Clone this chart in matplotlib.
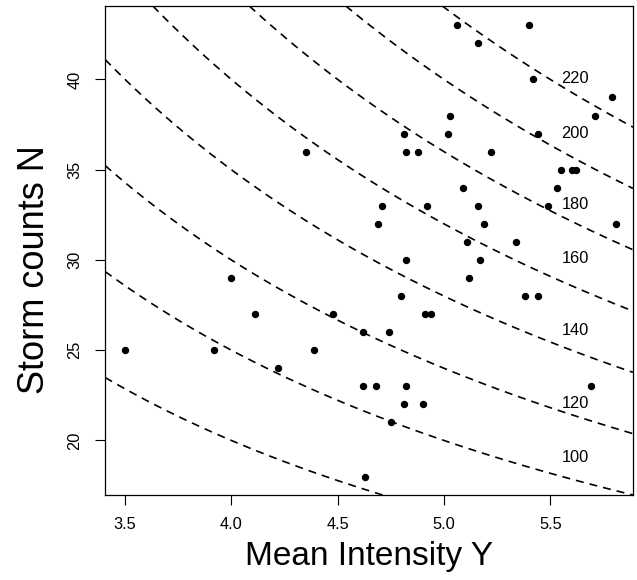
import numpy as np
import matplotlib.pyplot as plt

plt.rcParams['font.family'] = ['Liberation Sans', 'DejaVu Sans']

# mean intensity Y and storm counts N
intensity = [3.50, 4.00, 4.11, 3.92, 4.22,
             4.82, 5.17, 5.12, 4.80, 4.48, 4.91, 4.94, 4.62, 4.74, 4.39,
             4.62, 4.68, 4.82, 4.81, 4.90, 4.75, 4.63,
             5.06, 5.16, 5.03, 4.81, 5.02, 4.35, 4.82, 4.88, 5.22, 5.09,
             4.71, 4.92, 5.16, 4.69, 5.19, 5.11,
             5.40, 5.42, 5.79, 5.71, 5.44, 5.55, 5.60, 5.62, 5.53, 5.49,
             5.81, 5.34,
             5.38, 5.44, 5.69]
counts = [25, 29, 27, 25, 24,
          30, 30, 29, 28, 27, 27, 27, 26, 26, 25,
          23, 23, 23, 22, 22, 21, 18,
          43, 42, 38, 37, 37, 36, 36, 36, 36, 34,
          33, 33, 33, 32, 32, 31,
          43, 40, 39, 38, 37, 35, 35, 35, 34, 33,
          32, 31,
          28, 28, 23]

# contour levels of N * Y and where their labels sit
levels = [80, 100, 120, 140, 160, 180, 200, 220]
label_levels = [100, 120, 140, 160, 180, 200, 220]
label_y = [19.07, 22.05, 26.07, 30.09, 33.07, 37.0, 40.06]
label_x = 5.616

fig = plt.figure(figsize=(6.37, 5.8), dpi=100)
ax = fig.add_axes([0.165, 0.1466, 0.8287, 0.8431])

xlim = (3.406, 5.889)
ylim = (16.98, 44.07)

gx = np.linspace(xlim[0], xlim[1], 300)
gy = np.linspace(ylim[0], ylim[1], 300)
GX, GY = np.meshgrid(gx, gy)
cs = ax.contour(GX, GY, GX * GY, levels=levels, colors='black', linewidths=1.2)
cs.set_linestyle((0, (4.8, 3.6)))

for lv, ly in zip(label_levels, label_y):
    ax.text(label_x, ly, str(lv), ha='center', va='center', fontsize=11.8)

ax.plot(intensity, counts, 'o', color='black', markersize=4.3, zorder=3)

ax.set_xlim(xlim)
ax.set_ylim(ylim)
ax.set_xticks([3.5, 4.0, 4.5, 5.0, 5.5])
ax.set_xticklabels(['3.5', '4.0', '4.5', '5.0', '5.5'])
ax.set_yticks([20, 25, 30, 35, 40])
ax.tick_params(direction='out', length=7.2, width=0.8, labelsize=11.8, pad=9)
plt.setp(ax.get_yticklabels(), rotation=90, va='center')
for s in ax.spines.values():
    s.set_linewidth(0.9)

ax.set_xlabel('Mean Intensity Y', fontsize=24, labelpad=6)
ax.set_ylabel('Storm counts N', fontsize=26)
ax.yaxis.set_label_coords(-0.10, 0.46)

fig.savefig('out.png', dpi=100)
